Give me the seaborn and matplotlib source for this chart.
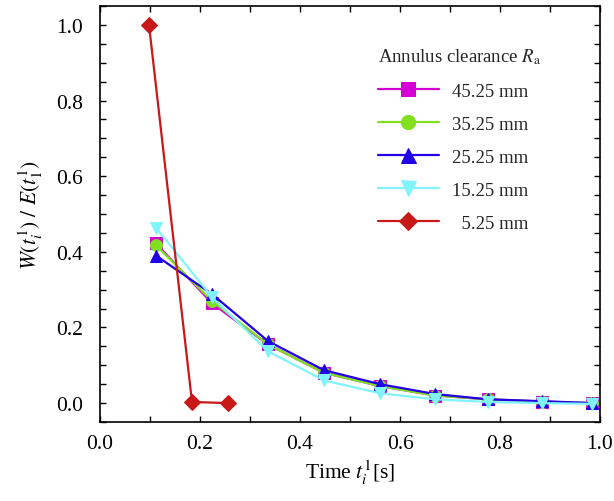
import matplotlib
matplotlib.use("Agg")
import matplotlib.pyplot as plt
import seaborn as sns
import pandas as pd
from matplotlib.ticker import MultipleLocator

sns.set_theme(style="ticks")
plt.rcParams['font.family'] = ['Liberation Serif', 'DejaVu Serif']
plt.rcParams['mathtext.fontset'] = 'stix'

# Data
t_common = [0.112, 0.224, 0.336, 0.448, 0.56, 0.67, 0.775, 0.884, 0.983]
w_4525 = [0.422, 0.264, 0.155, 0.080, 0.045, 0.020, 0.010, 0.004, 0.0]
w_3525 = [0.417, 0.270, 0.155, 0.080, 0.045, 0.020, 0.010, 0.004, 0.0]
w_2525 = [0.390, 0.288, 0.164, 0.087, 0.050, 0.024, 0.010, 0.005, 0.0]
w_1525 = [0.464, 0.280, 0.137, 0.060, 0.026, 0.010, 0.003, 0.000, -0.002]
t_525 = [0.098, 0.184, 0.256]
w_525 = [1.0, 0.003, 0.0]

labels = ["45.25 mm", "35.25 mm", "25.25 mm", "15.25 mm", "  5.25 mm"]
series_t = [t_common, t_common, t_common, t_common, t_525]
series_w = [w_4525, w_3525, w_2525, w_1525, w_525]
colors = ["#d400d4", "#80e020", "#2200e6", "#80f4fa", "#c81818"]
markers = ["s", "o", "^", "v", "D"]
msizes = [8, 8.5, 9, 9, 8]

fig = plt.figure(figsize=(6.14, 5.02), dpi=100)
ax = fig.add_axes([100/614, 79/502, 500/614, 416/502])

for t, w, lab, c, m, ms in zip(series_t, series_w, labels, colors, markers, msizes):
    df = pd.DataFrame({"t": t, "w": w})
    sns.lineplot(data=df, x="t", y="w", ax=ax, color=c, marker=m, markersize=ms,
                 markeredgecolor=c, linewidth=1.6, label=lab, sort=False)

ax.set_xlim(0, 1.0)
ax.set_ylim(-0.05, 1.05)
ax.xaxis.set_major_locator(MultipleLocator(0.2))
ax.xaxis.set_minor_locator(MultipleLocator(0.1))
ax.yaxis.set_major_locator(MultipleLocator(0.2))
ax.yaxis.set_minor_locator(MultipleLocator(0.05))
ax.tick_params(which='both', direction='in', top=True, right=True, length=4.5,
               width=1.0, color='black', labelsize=15.5, labelcolor='black')
ax.tick_params(axis='x', pad=9)
ax.tick_params(axis='y', pad=12)
for s in ax.spines.values():
    s.set_color('black')
    s.set_linewidth(1.2)

ax.set_xlabel(r"Time $t_i^1$[s]", fontsize=15.5, color='black', labelpad=3)
ax.set_ylabel(r"$W(t_i^1)\ /\ E(t_1^1)$", fontsize=15.5, color='black', labelpad=8)

leg = ax.legend(title=r"Annulus clearance $R_\mathrm{a}$", loc='upper left',
                bbox_to_anchor=(0.54, 0.92), frameon=False, fontsize=13.5,
                title_fontsize=13.5, handlelength=3.3, labelspacing=0.85,
                handletextpad=0.7, markerscale=1.2, borderaxespad=0.0)
leg._legend_box.align = "left"

fig.savefig("out.png", dpi=100)
